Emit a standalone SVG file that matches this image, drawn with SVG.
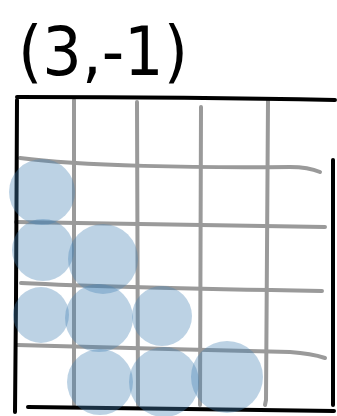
<svg xmlns="http://www.w3.org/2000/svg" width="337" height="416" viewBox="0 0 337 416">
<style>
.g{fill:none;stroke:#9a9a9a;stroke-width:4;stroke-linecap:round}
.b{fill:none;stroke:#000;stroke-width:4;stroke-linecap:round}
.c{fill:#4682b4;fill-opacity:0.36}
</style>
<rect width="337" height="416" fill="#fff"/>
<text x="18" y="75" font-family="'DejaVu Sans', sans-serif" font-size="68" textLength="170" lengthAdjust="spacingAndGlyphs" fill="#000">(3,-1)</text>
<g id="grid">
<path class="g" d="M74,100 L74,405"/>
<path class="g" d="M137,102 L138,405"/>
<path class="g" d="M201,107 L200,405"/>
<path class="g" d="M268,100 L266,400 L265,405"/>
<path class="g" d="M20,158 C80,166 200,168 290,167 C305,167 313,169 320,172"/>
<path class="g" d="M16,222 C100,224 200,225 325,227"/>
<path class="g" d="M21,283 C100,287 200,289 322,291"/>
<path class="g" d="M17,345 C100,347 200,350 290,352 C305,353 316,355 325,358"/>
</g>
<g id="border">
<path class="b" d="M17,97 C120,97 240,98 335,100"/>
<path class="b" d="M17,100 L16,300 L15,412"/>
<path class="b" d="M333,160 L333,405"/>
<path class="b" d="M28,407 C120,408 240,410 334,411"/>
</g>
<g id="dots">
<circle class="c" cx="42" cy="192" r="33"/>
<circle class="c" cx="43" cy="250" r="31"/>
<circle class="c" cx="103" cy="259" r="35"/>
<circle class="c" cx="41" cy="315" r="28"/>
<circle class="c" cx="99" cy="318" r="34"/>
<circle class="c" cx="162" cy="316" r="30"/>
<circle class="c" cx="100" cy="382" r="33"/>
<circle class="c" cx="164" cy="382" r="35"/>
<circle class="c" cx="227" cy="377" r="36"/>
</g>
</svg>
